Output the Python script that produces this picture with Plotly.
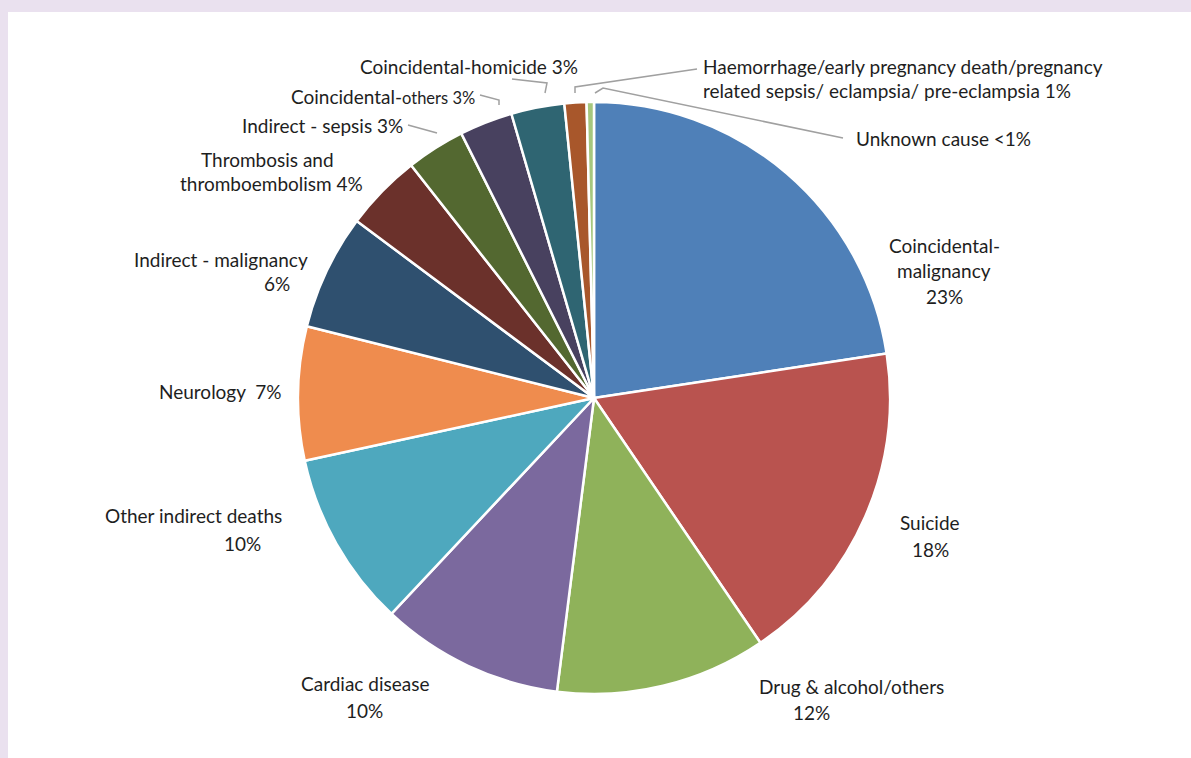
import plotly.graph_objects as go

W, H = 1191, 758

# Causes of death, in clockwise order from 12 o'clock
categories = [
    "Coincidental-malignancy", "Suicide", "Drug & alcohol/others", "Cardiac disease",
    "Other indirect deaths", "Neurology", "Indirect - malignancy",
    "Thrombosis and thromboembolism", "Indirect - sepsis", "Coincidental-others",
    "Coincidental-homicide",
    "Haemorrhage/early pregnancy death/pregnancy related sepsis/ eclampsia/ pre-eclampsia",
    "Unknown cause",
]
shares = [22.6, 17.9, 11.5, 10.0, 9.6, 7.3, 6.3, 4.2, 3.2, 2.9, 2.9, 1.2, 0.4]
pct_labels = ["23%", "18%", "12%", "10%", "10%", "7%", "6%", "4%", "3%", "3%", "3%", "1%", "<1%"]
colors = [
    "#4F80B8", "#B9534F", "#8FB25A", "#7B699E", "#4EA8BE", "#EF8C4E", "#2F506F",
    "#6B312B", "#536830", "#48415F", "#2F6572", "#A8572B", "#A6C77E",
]


def px(x):
    return x / W


def py(y):
    return 1 - y / H


# pie centre and radius in pixels
cx, cy, r = 594, 398, 296

fig = go.Figure(go.Pie(
    labels=categories,
    values=shares,
    sort=False,
    direction="clockwise",
    rotation=0,
    textinfo="none",
    hoverinfo="label+percent",
    marker=dict(colors=colors, line=dict(color="white", width=2.5)),
    domain=dict(x=[px(cx - r), px(cx + r)], y=[py(cy + r), py(cy - r)]),
    showlegend=False,
))

FONT = dict(family="Lato, 'Open Sans', sans-serif", size=19, color="#1E1E1E")

# (text, centre-x, centre-y, xanchor) for each label line
label_lines = [
    ("Coincidental-", 944, 245, "center"),
    ("malignancy", 944, 270, "center"),
    (pct_labels[0], 944, 297, "center"),
    ("Suicide", 930, 522, "center"),
    (pct_labels[1], 930, 549, "center"),
    ("Drug & alcohol/others", 851, 686, "center"),
    (pct_labels[2], 811, 712, "center"),
    ("Cardiac disease", 365, 683, "center"),
    (pct_labels[3], 364, 710, "center"),
    ("Other indirect deaths", 193, 515, "center"),
    (pct_labels[4], 242, 543, "center"),
    ("Neurology  " + pct_labels[5], 220, 391, "center"),
    ("Indirect - malignancy", 221, 259, "center"),
    (pct_labels[6], 277, 283, "center"),
    ("Thrombosis and", 267, 160, "center"),
    ("thromboembolism " + pct_labels[7], 271, 184, "center"),
    ("Indirect - sepsis " + pct_labels[8], 322, 125, "center"),
    ("Coincidental-<span style='font-size:16.5px'>others " + pct_labels[9] + "</span>", 383, 96, "center"),
    ("Coincidental-homicide " + pct_labels[10], 469, 67, "center"),
    ("Haemorrhage/early pregnancy death/pregnancy", 701, 67, "left"),
    ("related sepsis/ eclampsia/ pre-eclampsia " + pct_labels[11], 701, 91, "left"),
    ("Unknown cause " + pct_labels[12], 854, 138, "left"),
]

annotations = [
    dict(text=t, x=px(x), y=py(y), xref="paper", yref="paper",
         xanchor=a, yanchor="middle", showarrow=False, font=FONT)
    for t, x, y, a in label_lines
]

# leader lines from the outer labels to their slices
leaders = [
    [(512, 79), (547, 83), (545, 93)],
    [(480, 95), (499, 100), (499, 105)],
    [(408, 125), (437, 133)],
    [(697, 69), (575, 87), (575, 93)],
    [(843, 138), (603, 88), (595, 93)],
]

shapes = [
    # white panel inside the lavender frame
    dict(type="rect", xref="paper", yref="paper", x0=px(8), x1=1.01, y0=-0.01, y1=py(12),
         fillcolor="white", line=dict(width=0), layer="below"),
]
for pts in leaders:
    path = "M " + " L ".join(f"{px(x)},{py(y)}" for x, y in pts)
    shapes.append(dict(type="path", xref="paper", yref="paper", path=path,
                       line=dict(color="#A0A0A0", width=1.5)))

fig.update_layout(
    width=W, height=H,
    margin=dict(l=0, r=0, t=0, b=0),
    paper_bgcolor="#EAE1EF",
    plot_bgcolor="white",
    annotations=annotations,
    shapes=shapes,
)

fig.write_html("out.html")
